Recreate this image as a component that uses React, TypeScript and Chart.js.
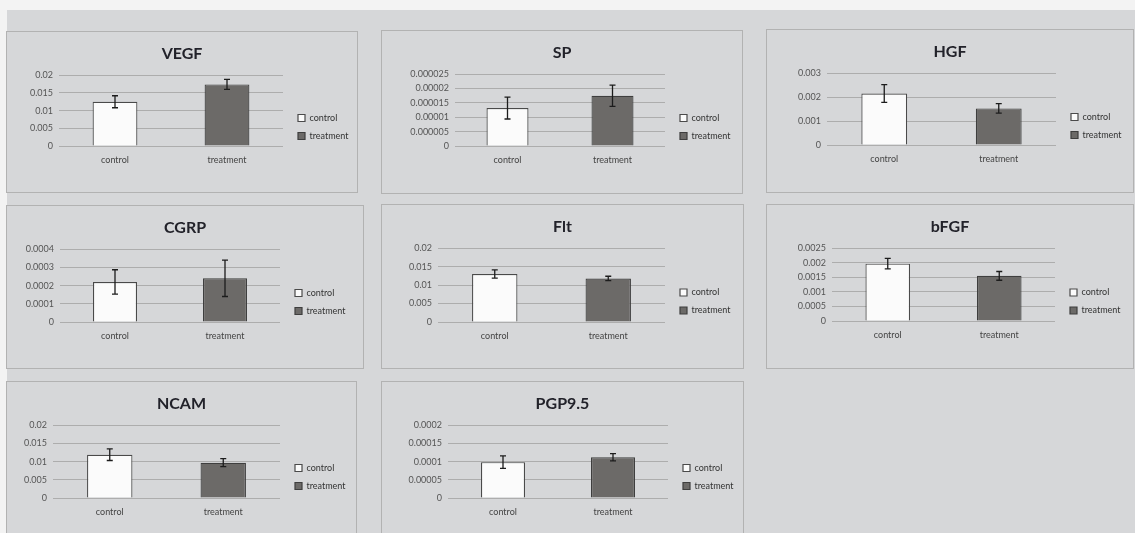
import React, { useEffect, useRef } from 'react';
import { Chart, registerables } from 'chart.js';

Chart.register(...registerables);
Chart.defaults.font.family = 'Lato, "Open Sans", "DejaVu Sans", sans-serif';

// ---------- data ----------
const categories = ['control', 'treatment'];
const panelTitles = ['VEGF', 'SP', 'HGF', 'CGRP', 'Flt', 'bFGF', 'NCAM', 'PGP9.5'];
const controlMeans = [0.0125, 0.0000132, 0.00215, 0.00022, 0.013, 0.00197, 0.0119, 0.0000985];
const controlErrors = [0.0017, 0.0000038, 0.00037, 0.000067, 0.0011, 0.00018, 0.0016, 0.000017];
const treatmentMeans = [0.0174, 0.0000175, 0.00153, 0.00024, 0.0118, 0.00155, 0.0097, 0.000112];
const treatmentErrors = [0.0014, 0.0000037, 0.0002, 0.0001, 0.0006, 0.00015, 0.0011, 0.00001];
const axisMax = [0.02, 0.000025, 0.003, 0.0004, 0.02, 0.0025, 0.02, 0.0002];
const axisStep = [0.005, 0.000005, 0.001, 0.0001, 0.005, 0.0005, 0.005, 0.00005];

// ---------- layout ----------
const panelRects = [
  [7, 32, 350, 160],
  [382, 31, 360, 162],
  [767, 30, 366, 162],
  [7, 206, 356, 162],
  [382, 205, 361, 163],
  [767, 205, 366, 163],
  [7, 382, 349, 160],
  [382, 382, 361, 160],
];
const plotLeftInset = [52, 73, 60, 53, 56, 65, 46, 66];
const plotRightInset = [74, 77, 77, 83, 78, 78, 76, 75];
const plotBottom = [114, 115, 115, 116, 117, 116, 116, 116];

const formatTick = (v: number) => Number(v).toFixed(8).replace(/\.?0+$/, '');

const errorBarPlugin = {
  id: 'errorBars',
  afterDatasetsDraw(chart: any, _args: any, opts: any) {
    const ctx = chart.ctx;
    const yScale = chart.scales.y;
    chart.data.datasets.forEach((ds: any, di: number) => {
      const meta = chart.getDatasetMeta(di);
      ds.data.forEach((v: any, i: number) => {
        if (v == null) return;
        const e = opts.errors[di][i];
        const el = meta.data[i];
        if (!el) return;
        const x = el.x;
        const yT = yScale.getPixelForValue(v + e);
        const yB = yScale.getPixelForValue(v - e);
        ctx.save();
        ctx.strokeStyle = '#1c1c1c';
        ctx.lineWidth = 1.3;
        ctx.beginPath();
        ctx.moveTo(x, yT);
        ctx.lineTo(x, yB);
        ctx.moveTo(x - 3, yT);
        ctx.lineTo(x + 3, yT);
        ctx.moveTo(x - 3, yB);
        ctx.lineTo(x + 3, yB);
        ctx.stroke();
        ctx.restore();
      });
    });
  },
};

const legendPlacementPlugin = {
  id: 'legendPlacement',
  beforeUpdate(chart: any, _args: any, opts: any) {
    const lg = chart.legend;
    if (lg && !lg._fixedFit) {
      const orig = lg.fit;
      lg.fit = function () {
        orig.call(this);
        this.width = opts.width;
      };
      lg._fixedFit = true;
    }
  },
  afterLayout(chart: any, _args: any, opts: any) {
    const lg = chart.legend;
    if (!lg) return;
    lg.left += opts.dx;
    lg.right += opts.dx;
    lg.top += opts.dy;
    lg.bottom += opts.dy;
  },
};

function Panel({ index }: { index: number }) {
  const ref = useRef<HTMLCanvasElement>(null);
  const [x, y, w, h] = panelRects[index];

  useEffect(() => {
    if (!ref.current) return;
    const chart = new Chart(ref.current, {
      type: 'bar',
      data: {
        labels: categories,
        datasets: [
          {
            label: categories[0],
            data: [controlMeans[index], null],
            backgroundColor: '#fbfbfb',
            borderColor: '#4a4a4a',
            borderWidth: 1.2,
            barPercentage: 0.4,
            categoryPercentage: 1,
            skipNull: true,
          } as any,
          {
            label: categories[1],
            data: [null, treatmentMeans[index]],
            backgroundColor: '#6c6a68',
            borderColor: '#3e3e3e',
            borderWidth: 1.2,
            barPercentage: 0.4,
            categoryPercentage: 1,
            skipNull: true,
          } as any,
        ],
      },
      options: {
        responsive: false,
        animation: false,
        devicePixelRatio: 1,
        events: [],
        layout: { padding: 0 },
        scales: {
          x: {
            grid: { display: false },
            border: { display: false },
            ticks: { padding: 1, color: '#444', font: { size: 9 } },
            afterFit: (s: any) => {
              s.height = h - plotBottom[index];
            },
          },
          y: {
            min: 0,
            max: axisMax[index],
            grid: { color: '#adadad', drawTicks: false, lineWidth: 1 },
            border: { display: false },
            ticks: {
              stepSize: axisStep[index],
              padding: 6,
              color: '#555',
              font: { size: 9 },
              callback: (v: any) => formatTick(v),
            },
            afterFit: (s: any) => {
              s.width = plotLeftInset[index];
            },
          },
        },
        plugins: {
          title: {
            display: true,
            text: panelTitles[index],
            color: '#22222a',
            font: { size: 16, weight: 'bold' },
            padding: { top: 12, bottom: 12 },
          },
          legend: {
            display: true,
            position: 'right',
            align: 'center',
            labels: {
              boxWidth: 7,
              boxHeight: 7,
              padding: 9,
              color: '#333',
              font: { size: 9 },
            },
          },
          tooltip: { enabled: false },
          errorBars: {
            errors: [
              [controlErrors[index], null],
              [null, treatmentErrors[index]],
            ],
          },
          legendPlacement: { width: plotRightInset[index], dx: 6, dy: 15 },
        } as any,
      },
      plugins: [errorBarPlugin, legendPlacementPlugin],
    });
    return () => chart.destroy();
  }, [index]);

  return (
    <div
      style={{
        position: 'absolute',
        left: x - 1,
        top: y - 1,
        width: w,
        height: h,
        border: '1px solid #b2b2b2',
      }}
    >
      <canvas ref={ref} width={w} height={h} style={{ display: 'block' }} />
    </div>
  );
}

export default function App() {
  return (
    <div
      style={{
        position: 'fixed',
        left: 0,
        top: 0,
        width: 1135,
        height: 533,
        background: '#f3f3f3',
        overflow: 'hidden',
      }}
    >
      <div
        style={{
          position: 'absolute',
          left: 7,
          top: 10,
          right: 0,
          bottom: 0,
          background: '#d6d7d9',
        }}
      />
      {panelTitles.map((_, i) => (
        <Panel key={i} index={i} />
      ))}
    </div>
  );
}
